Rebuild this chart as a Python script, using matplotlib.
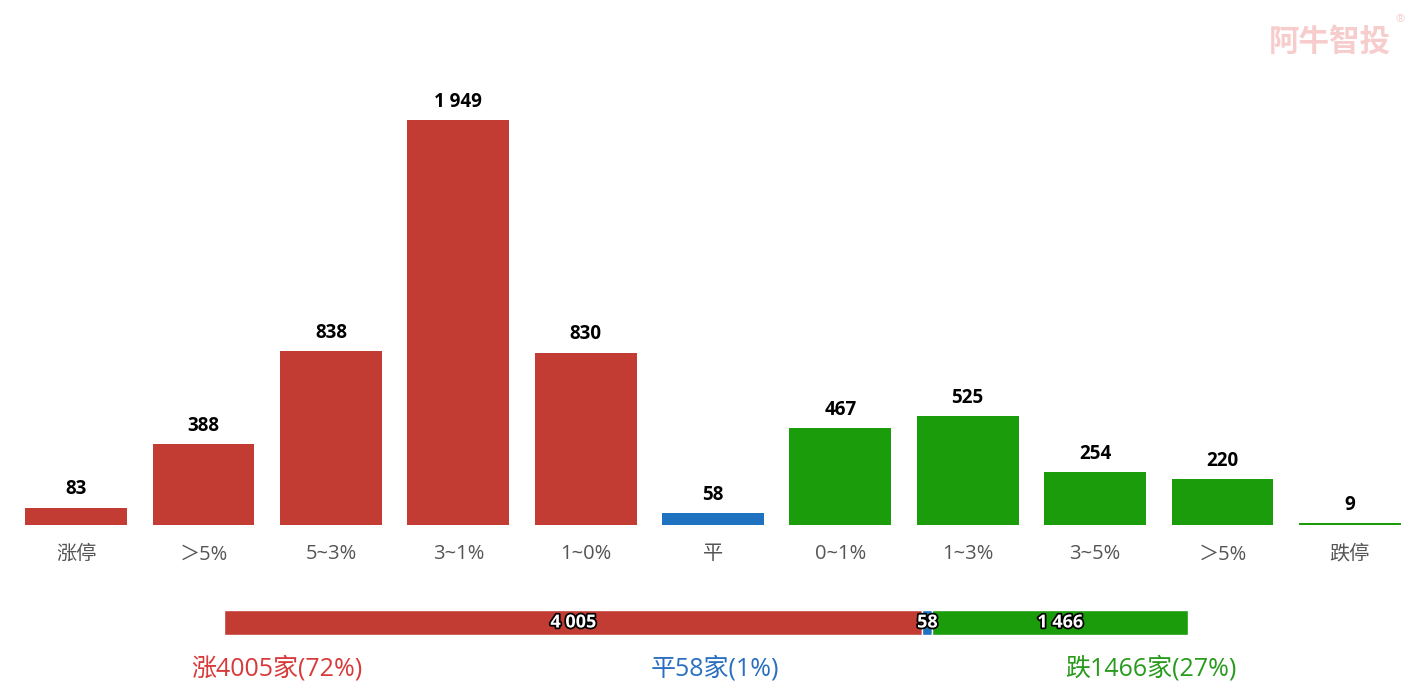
import matplotlib
matplotlib.use('Agg')
import matplotlib.pyplot as plt
import matplotlib.patheffects as pe

plt.rcParams['font.family'] = ['Open Sans', 'Noto Sans CJK SC', 'DejaVu Sans']

categories = ['涨停', '＞5%', '5~3%', '3~1%', '1~0%', '平', '0~1%', '1~3%', '3~5%', '＞5%', '跌停']
counts = [83, 388, 838, 1949, 830, 58, 467, 525, 254, 220, 9]
groups = ['up'] * 5 + ['flat'] + ['down'] * 5

summary_names = ['涨', '平', '跌']
summary_counts = [4005, 58, 1466]
summary_pcts = [72, 1, 27]

red = '#c23c33'
blue = '#1f72c0'
green = '#1b9c0b'
color_map = {'up': red, 'flat': blue, 'down': green}
text_colors = ['#d83a3a', '#2a6fc0', '#289a1c']


def fmt(n):
    return '{:,}'.format(n).replace(',', ' ')


fig = plt.figure(figsize=(14.26, 6.88), dpi=100)

# main distribution bars
ax = fig.add_axes([12.5 / 1426, 163 / 688, 1401 / 1426, 435 / 688])
xs = list(range(len(categories)))
bars = ax.bar(xs, counts, width=0.8, color=[color_map[g] for g in groups])
for x, c in zip(xs, counts):
    ax.annotate(fmt(c), (x, c), xytext=(0, 6), textcoords='offset points',
                ha='center', va='bottom', fontsize=13.5, fontweight='bold', color='black')
ax.set_xlim(-0.5, len(categories) - 0.5)
ax.set_ylim(0, 435 / 0.2078)
ax.set_xticks(xs)
ax.set_xticklabels(categories, fontsize=14.5, color='#555555')
ax.tick_params(axis='x', length=0, pad=14)
ax.set_yticks([])
for s in ax.spines.values():
    s.set_visible(False)

# summary stacked bar
ax2 = fig.add_axes([224 / 1426, 53 / 688, 964 / 1426, 25 / 688])
total = sum(summary_counts)
left = 0
for n, col in zip(summary_counts, [red, blue, green]):
    ax2.barh(0, n, left=left, height=1, color=col, edgecolor='white', linewidth=1)
    ax2.text(left + n / 2, 0, fmt(n), ha='center', va='center', fontsize=13,
             fontweight='bold', color='white',
             path_effects=[pe.withStroke(linewidth=2.5, foreground='black')])
    left += n
ax2.set_xlim(0, total)
ax2.set_ylim(-0.5, 0.5)
ax2.axis('off')

# summary text
xpos = [277, 715, 1151]
for name, n, p, col, xp in zip(summary_names, summary_counts, summary_pcts, text_colors, xpos):
    fig.text(xp / 1426, 1 - 669 / 688, '%s%d家(%d%%)' % (name, n, p),
             ha='center', va='center', fontsize=18, color=col)

# watermark
fig.text(1330 / 1426, 1 - 43 / 688, '阿牛智投', ha='center', va='center',
         fontsize=22, fontweight='bold', color='#f7cccc')
fig.text(1400 / 1426, 1 - 20 / 688, '®', ha='center', va='center',
         fontsize=8, color='#f7cccc')

fig.savefig('out.png', dpi=100)
